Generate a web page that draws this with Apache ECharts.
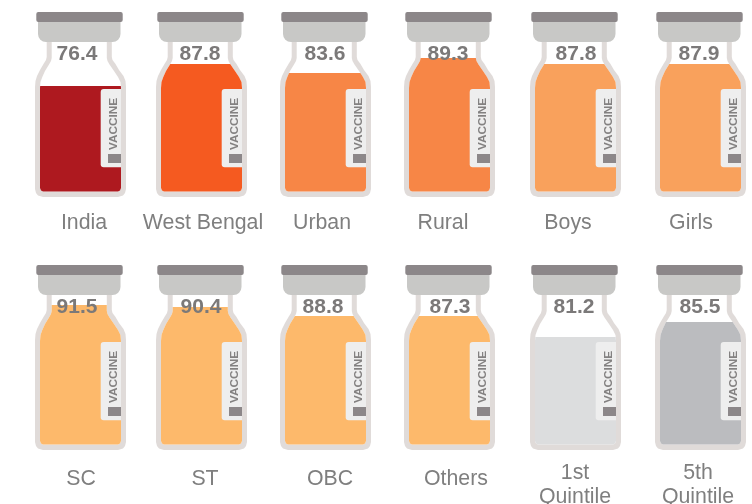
<!DOCTYPE html>
<html>
<head>
<meta charset="utf-8">
<style>
  html, body { margin: 0; padding: 0; background: #fff; }
  #chart { width: 752px; height: 504px; }
</style>
<script src="https://cdn.jsdelivr.net/npm/echarts@6/dist/echarts.min.js"></script>
</head>
<body>
<div id="chart"></div>
<script>
// printed numbers on the vials
const categories = ['India', 'West Bengal', 'Urban', 'Rural', 'Boys', 'Girls',
  'SC', 'ST', 'OBC', 'Others', '1st\nQuintile', '5th\nQuintile'];
const values = [76.4, 87.8, 83.6, 89.3, 87.8, 87.9, 91.5, 90.4, 88.8, 87.3, 81.2, 85.5];
// liquid level, % of vial height (source drew them by eye)
const fillLevels = [58.9, 71.1, 66.1, 74.4, 71.1, 71.1, 77.8, 76.7, 71.7, 71.7, 60, 68.3];
const fillColors = ['#ae191f', '#f55a20', '#f78646', '#f78646', '#f9a15c', '#f9a15c',
  '#fdb96b', '#fdb96b', '#fdb96b', '#fdb96b', '#dcddde', '#bbbcbf'];

// layout
const rowTop = [12, 265];
const colLeft = [35, 156, 280, 404, 530, 655];
const valueX = [42, 44, 45, 44, 46, 44];       // number centre, from vial left
const valueX2 = [42, 45, 43, 46, 44, 45];
const catX = [49, 47, 42, 39, 38, 36];         // category centre, from vial left
const catX2 = [46, 49, 50, 52, 45, 43];

// vial outlines, [x, y] from the vial's top left corner
const outerLeft = [[11.7, 30], [11.7, 45], [11, 48], [8.5, 52], [5, 58], [2, 64], [0.5, 69], [0, 75], [0, 177], [1, 181], [3, 183.5], [8, 185]];
const outerRight = [[76.8, 30], [76.8, 45], [77.5, 48], [80.5, 52], [84, 58], [88.5, 64], [90.5, 69], [91, 75], [91, 177], [90, 181], [88, 183.5], [83, 185]];
const innerLeft = [[16.7, 30], [16.7, 46], [16, 49], [14, 52.5], [10, 59], [7.3, 65], [5.5, 70], [5, 76], [5, 176], [6, 178.5], [8, 179.5]];
const innerRight = [[71.8, 30], [71.8, 46], [72.5, 49], [74.5, 52.5], [79, 59], [83, 65], [85.5, 70], [86, 76], [86, 176], [85, 178.5], [83, 179.5]];

const CAP_DARK = '#8c8789';
const TEXT_GREY = '#7b7979';

// cut a side of the vial at height y
function cutEdge(edge, y) {
  const out = [];
  for (let i = 0; i < edge.length; i++) {
    const p = edge[i];
    if (p[1] < y) {
      const n = edge[i + 1];
      if (n && n[1] > y) {
        out.push([p[0] + (n[0] - p[0]) * (y - p[1]) / (n[1] - p[1]), y]);
      }
    } else {
      out.push(p);
    }
  }
  return out;
}

function makeRenderItem(i) {
  const row = i < 6 ? 0 : 1;
  const col = i % 6;
  return function (params, api) {
    const topY = rowTop[row];
    const levelY = api.coord([0, api.value(1)])[1] - topY;
    const liquid = cutEdge(innerLeft, levelY).concat(cutEdge(innerRight, levelY).reverse());
    return {
      type: 'group',
      x: colLeft[col],
      y: topY,
      children: [
        { type: 'polygon', shape: { points: outerLeft.concat(outerRight.slice().reverse()) }, style: { fill: '#e0dbd9' } },
        { type: 'polygon', shape: { points: innerLeft.concat(innerRight.slice().reverse()) }, style: { fill: '#fff' } },
        { type: 'polygon', shape: { points: liquid }, style: { fill: api.visual('color') } },
        { type: 'rect', shape: { x: 65.7, y: 77, width: 20.3, height: 78.3, r: [3, 0, 0, 3] }, style: { fill: '#eeeeee' } },
        { type: 'rect', shape: { x: 73, y: 142, width: 13, height: 9 }, style: { fill: CAP_DARK } },
        {
          type: 'text', x: 78.5, y: 112, rotation: Math.PI / 2,
          style: { text: 'VACCINE', fill: '#838181', font: 'bold 11.8px "Liberation Sans"', align: 'center', verticalAlign: 'middle' }
        },
        { type: 'rect', shape: { x: 3, y: 8, width: 82.5, height: 22, r: [0, 0, 8, 8] }, style: { fill: '#c8c8c6' } },
        { type: 'rect', shape: { x: 1.3, y: 0, width: 86.4, height: 10, r: 2 }, style: { fill: CAP_DARK } },
        {
          type: 'text', x: row ? valueX2[col] : valueX[col], y: 42.5,
          style: { text: values[i].toFixed(1), fill: TEXT_GREY, font: 'bold 21px "Liberation Sans"', align: 'center', verticalAlign: 'middle' }
        },
        {
          type: 'text', x: row ? catX2[col] : catX[col], y: categories[i].indexOf('\n') > 0 ? 220 : (row ? 214 : 211),
          style: { text: categories[i], fill: '#7f7f7f', font: '21.3px "Liberation Sans"', lineHeight: 24, align: 'center', verticalAlign: 'middle' }
        }
      ]
    };
  };
}

const grid = [];
const xAxis = [];
const yAxis = [];
const series = [];
categories.forEach((cat, i) => {
  const row = i < 6 ? 0 : 1;
  // y axis: 0 at the inside floor of the vial, 100 at the top of the cap
  grid.push({ left: colLeft[i % 6], top: rowTop[row], width: 91, height: 180 });
  xAxis.push({ type: 'category', gridIndex: i, data: [cat], show: false });
  yAxis.push({ type: 'value', gridIndex: i, min: 0, max: 100, show: false });
  series.push({
    type: 'custom',
    xAxisIndex: i,
    yAxisIndex: i,
    clip: false,
    silent: true,
    itemStyle: { color: fillColors[i] },
    data: [[0, fillLevels[i], values[i]]],
    renderItem: makeRenderItem(i)
  });
});

const chart = echarts.init(document.getElementById('chart'));
chart.setOption({
  animation: false,
  backgroundColor: '#fff',
  grid: grid,
  xAxis: xAxis,
  yAxis: yAxis,
  series: series
});
</script>
</body>
</html>
